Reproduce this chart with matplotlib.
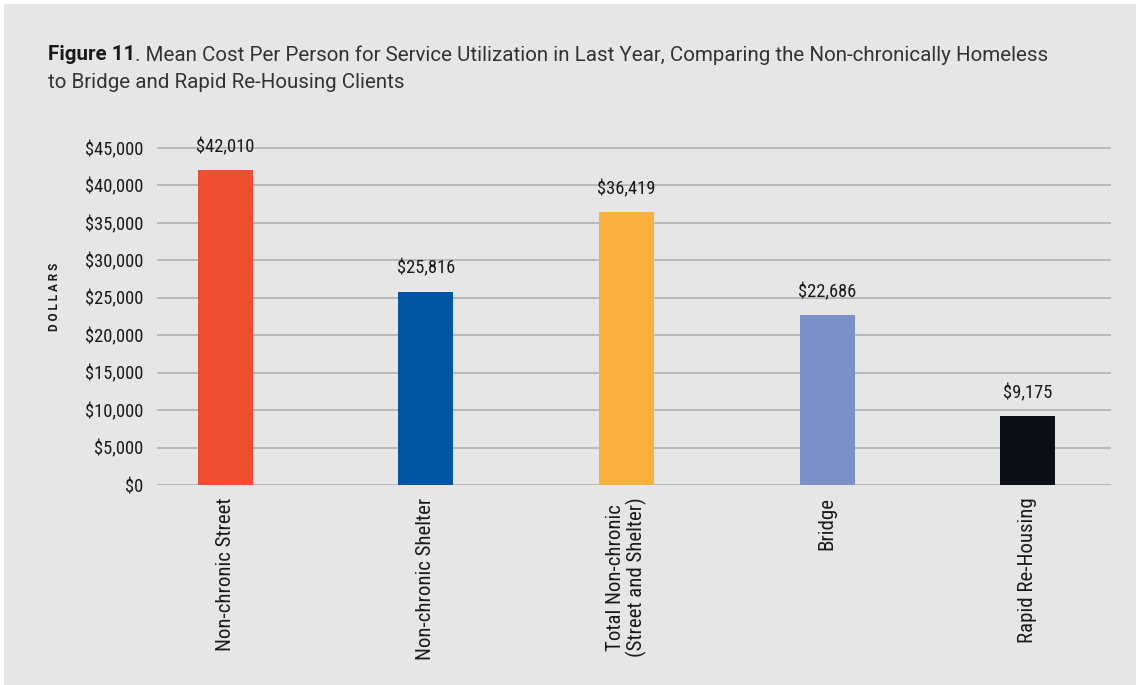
import matplotlib.pyplot as plt
from matplotlib.patches import Rectangle
import numpy as np

# данные с графика
categories = ["Non-chronic Street", "Non-chronic Shelter",
              "Total Non-chronic\n(Street and Shelter)", "Bridge", "Rapid Re-Housing"]
mean_cost = [42010, 25816, 36419, 22686, 9175]
bar_colors = ["#EF4E31", "#0055A5", "#F9B03D", "#7B8FC8", "#0B0E14"]
yticks = [0, 5000, 10000, 15000, 20000, 25000, 30000, 35000, 40000, 45000]

bg = "#E6E6E6"
tick_font = ["Roboto Condensed", "Liberation Sans Narrow", "Roboto", "DejaVu Sans"]

fig = plt.figure(figsize=(11.36, 6.85), dpi=100)
fig.patch.set_facecolor("white")
# серый фон с узкой белой рамкой слева и сверху
fig.patches.append(Rectangle((4 / 1136, 0), 1, 1 - 4 / 685, transform=fig.transFigure,
                             facecolor=bg, edgecolor="none", zorder=-10))

ax = fig.add_axes([157 / 1136, 1 - 485 / 685, (1111 - 157) / 1136, (485 - 140.5) / 685])
ax.set_facecolor("none")

x = np.arange(len(categories))
ax.bar(x, mean_cost, width=0.274, color=bar_colors, zorder=3)

for xi, v in zip(x, mean_cost):
    ax.annotate(f"${v:,}", (xi, v), xytext=(0, 10), textcoords="offset points",
                ha="center", va="bottom", fontsize=13.3, family=tick_font, color="#1a1a1a")

ax.set_xlim(-0.339, 4.414)
ax.set_ylim(0, 46000)
ax.set_yticks(yticks)
ax.set_yticklabels([f"${t:,}" for t in yticks], family=tick_font, fontsize=13.3, color="#1a1a1a")
ax.set_xticks(x)
ax.set_xticklabels(categories, rotation=90, family=tick_font, fontsize=15,
                   color="#1a1a1a", linespacing=1.1)
ax.tick_params(axis="both", length=0)
ax.tick_params(axis="y", pad=10)
ax.tick_params(axis="x", pad=9)

ax.yaxis.grid(True, color="#B0B0B0", linewidth=1.2, zorder=0)
for s in ax.spines.values():
    s.set_visible(False)

# подпись оси
fig.text(55 / 1136, 1 - 297 / 685, "D O L L A R S", rotation=90, ha="center", va="center",
         fontsize=8.5, fontweight="bold", family=["Roboto", "DejaVu Sans"], color="#1a1a1a")

# заголовок
title_font = ["Roboto", "DejaVu Sans"]
t1 = fig.text(48 / 1136, 1 - 55 / 685, "Figure 11", fontsize=14.8, fontweight="bold",
              family=title_font, va="center", color="#1a1a1a")
fig.canvas.draw()
bb = t1.get_window_extent()
fig.text(bb.x1 / 1136, 1 - 55 / 685,
         ". Mean Cost Per Person for Service Utilization in Last Year, Comparing the Non-chronically Homeless",
         fontsize=14.8, family=title_font, va="center", color="#333333")
fig.text(48 / 1136, 1 - 82 / 685, "to Bridge and Rapid Re-Housing Clients", fontsize=14.8,
         family=title_font, va="center", color="#333333")

fig.savefig("out.png", dpi=100, facecolor=fig.get_facecolor())
